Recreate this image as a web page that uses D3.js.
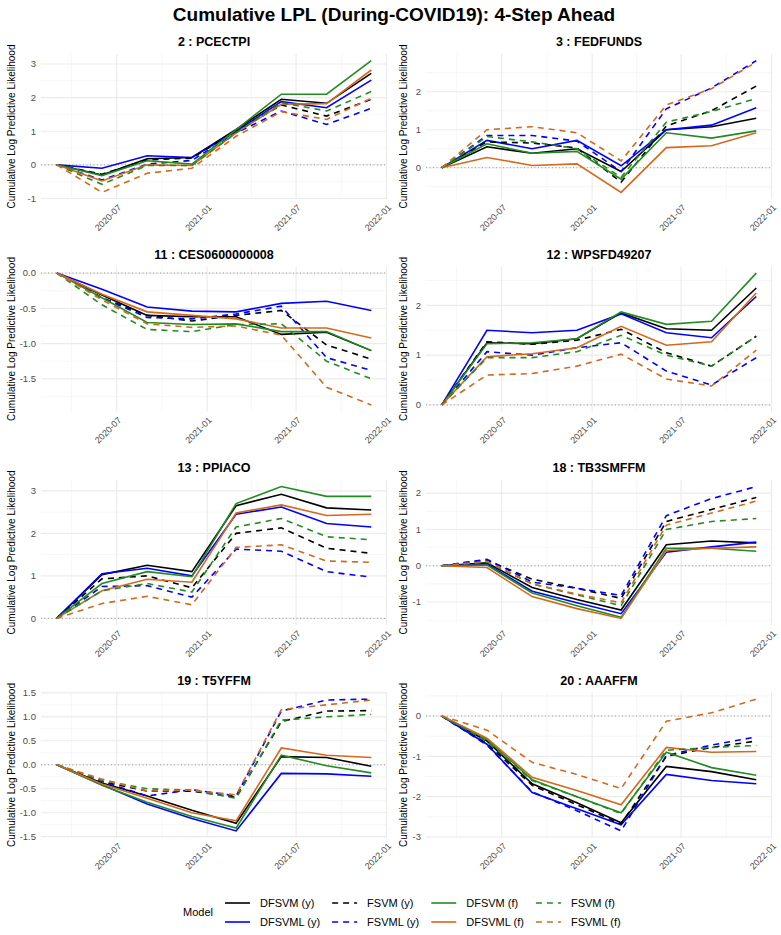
<!DOCTYPE html>
<html>
<head>
<meta charset="utf-8">
<script src="https://cdn.jsdelivr.net/npm/d3@7"></script>
<style>
  body { margin: 0; background: #fff; }
  text { font-family: "Liberation Sans", Arial, sans-serif; }
</style>
</head>
<body>
<svg id="chart"></svg>
<script>
const W = 781, H = 935;

// ---- data ----
const dates = ["2020-03", "2020-06", "2020-09", "2020-12", "2021-03", "2021-06", "2021-09", "2021-12"];
const models = ["DFSVM (y)", "DFSVML (y)", "FSVM (y)", "FSVML (y)", "DFSVM (f)", "DFSVML (f)", "FSVM (f)", "FSVML (f)"];
const modelColor = ["#000000", "#0000FF", "#000000", "#0000FF", "#228B22", "#D2691E", "#228B22", "#D2691E"];
const modelDashed = [false, false, true, true, false, false, true, true];
const panelTitles = ["2 : PCECTPI", "3 : FEDFUNDS", "11 : CES0600000008", "12 : WPSFD49207",
                     "13 : PPIACO", "18 : TB3SMFFM", "19 : T5YFFM", "20 : AAAFFM"];

// one row per model (same order as models)
const pcectpi = [
  [0, -0.30, 0.18, 0.22, 1.05, 1.95, 1.83, 2.72],
  [0, -0.10, 0.27, 0.22, 1.00, 1.88, 1.70, 2.52],
  [0, -0.28, 0.15, 0.20, 1.00, 1.78, 1.45, 1.95],
  [0, -0.45, 0.02, 0.13, 0.95, 1.60, 1.20, 1.68],
  [0, -0.32, 0.12, 0.02, 1.05, 2.10, 2.10, 3.10],
  [0, -0.48, 0.00, -0.02, 0.95, 1.80, 1.82, 2.82],
  [0, -0.58, -0.02, -0.02, 0.95, 1.85, 1.60, 2.18],
  [0, -0.82, -0.25, -0.10, 0.85, 1.58, 1.35, 1.98]
];
const fedfunds = [
  [0, 0.55, 0.38, 0.50, -0.10, 1.00, 1.08, 1.30],
  [0, 0.72, 0.50, 0.72, 0.05, 1.00, 1.12, 1.58],
  [0, 0.68, 0.65, 0.52, -0.38, 1.10, 1.50, 2.15],
  [0, 0.85, 0.85, 0.70, -0.10, 1.55, 2.10, 2.82],
  [0, 0.63, 0.38, 0.43, -0.30, 0.92, 0.78, 0.97],
  [0, 0.27, 0.06, 0.10, -0.65, 0.53, 0.58, 0.92],
  [0, 0.82, 0.68, 0.50, -0.25, 1.20, 1.48, 1.82],
  [0, 1.00, 1.08, 0.92, 0.18, 1.65, 2.08, 2.78]
];
const ces = [
  [0, -0.31, -0.60, -0.62, -0.62, -0.87, -0.84, -1.10],
  [0, -0.23, -0.48, -0.54, -0.55, -0.43, -0.40, -0.53],
  [0, -0.35, -0.60, -0.68, -0.60, -0.53, -1.02, -1.22],
  [0, -0.35, -0.63, -0.65, -0.58, -0.47, -1.20, -1.38],
  [0, -0.35, -0.70, -0.73, -0.72, -0.83, -0.83, -1.10],
  [0, -0.30, -0.55, -0.60, -0.65, -0.78, -0.78, -0.92],
  [0, -0.45, -0.80, -0.83, -0.73, -0.72, -1.25, -1.50],
  [0, -0.38, -0.72, -0.77, -0.75, -0.88, -1.62, -1.87]
];
const wpsfd = [
  [0, 1.25, 1.23, 1.33, 1.85, 1.53, 1.50, 2.35],
  [0, 1.50, 1.45, 1.50, 1.83, 1.45, 1.35, 2.18],
  [0, 1.27, 1.22, 1.30, 1.52, 1.05, 0.78, 1.38],
  [0, 1.07, 1.00, 1.15, 1.25, 0.68, 0.40, 0.95],
  [0, 1.23, 1.25, 1.33, 1.87, 1.62, 1.68, 2.65],
  [0, 0.97, 1.03, 1.15, 1.58, 1.20, 1.27, 2.25],
  [0, 0.95, 0.95, 1.07, 1.40, 1.00, 0.78, 1.38],
  [0, 0.60, 0.63, 0.78, 1.02, 0.52, 0.38, 1.10]
];
const ppiaco = [
  [0, 1.03, 1.25, 1.10, 2.65, 2.92, 2.60, 2.55],
  [0, 1.05, 1.18, 1.00, 2.45, 2.62, 2.23, 2.15],
  [0, 0.93, 1.00, 0.72, 2.00, 2.13, 1.65, 1.53],
  [0, 0.75, 0.77, 0.50, 1.63, 1.58, 1.10, 0.97],
  [0, 0.82, 1.10, 0.98, 2.70, 3.10, 2.87, 2.87],
  [0, 0.65, 0.92, 0.85, 2.48, 2.67, 2.42, 2.45],
  [0, 0.65, 0.82, 0.62, 2.15, 2.35, 1.92, 1.85],
  [0, 0.35, 0.52, 0.32, 1.67, 1.73, 1.35, 1.32]
];
const tb3smffm = [
  [0, 0.08, -0.60, -0.93, -1.22, 0.58, 0.68, 0.63],
  [0, 0.05, -0.70, -1.02, -1.32, 0.37, 0.52, 0.65],
  [0, 0.15, -0.37, -0.62, -0.90, 1.22, 1.55, 1.88],
  [0, 0.18, -0.45, -0.62, -0.82, 1.38, 1.85, 2.18],
  [0, 0.02, -0.75, -1.10, -1.42, 0.48, 0.48, 0.40],
  [0, -0.05, -0.85, -1.18, -1.45, 0.42, 0.48, 0.52],
  [0, 0.10, -0.50, -0.80, -1.10, 1.00, 1.22, 1.30],
  [0, 0.12, -0.50, -0.78, -1.02, 1.12, 1.45, 1.78]
];
const t5yffm = [
  [0, -0.38, -0.65, -0.95, -1.22, 0.17, 0.15, -0.03],
  [0, -0.42, -0.82, -1.12, -1.38, -0.18, -0.19, -0.24],
  [0, -0.35, -0.55, -0.55, -0.68, 0.90, 1.12, 1.13],
  [0, -0.35, -0.65, -0.52, -0.65, 1.12, 1.35, 1.37],
  [0, -0.43, -0.78, -1.08, -1.32, 0.20, -0.02, -0.17],
  [0, -0.40, -0.70, -1.00, -1.17, 0.35, 0.20, 0.15],
  [0, -0.33, -0.50, -0.53, -0.70, 0.93, 1.00, 1.05],
  [0, -0.30, -0.55, -0.53, -0.63, 1.15, 1.25, 1.35]
];
const aaaffm = [
  [0, -0.62, -1.68, -2.15, -2.65, -1.25, -1.38, -1.58],
  [0, -0.70, -1.90, -2.30, -2.70, -1.45, -1.60, -1.68],
  [0, -0.68, -1.72, -2.20, -2.68, -1.00, -0.78, -0.62],
  [0, -0.72, -1.88, -2.35, -2.85, -0.98, -0.72, -0.52],
  [0, -0.58, -1.58, -2.00, -2.40, -0.90, -1.28, -1.47],
  [0, -0.55, -1.52, -1.85, -2.20, -0.78, -0.90, -0.88],
  [0, -0.62, -1.60, -2.00, -2.42, -0.85, -0.78, -0.73],
  [0, -0.35, -1.15, -1.45, -1.80, -0.13, 0.08, 0.42]
];
const panelValues = [pcectpi, fedfunds, ces, wpsfd, ppiaco, tb3smffm, t5yffm, aaaffm];

const yTicks = [[-1, 0, 1, 2, 3], [0, 1, 2], [-1.5, -1, -0.5, 0], [0, 1, 2],
                [0, 1, 2, 3], [-1, 0, 1, 2], [-1.5, -1, -0.5, 0, 0.5, 1, 1.5], [-3, -2, -1, 0]];
const xTicks = ["2020-07", "2021-01", "2021-07", "2022-01"];

// ---- layout ----
const colX = [41, 426], panelW = 346;
const rowY = [54, 266.5, 480, 692.5], panelH = 145;
const axisTitleX = [11, 403];

const parseMonth = d3.timeParse("%Y-%m");
const t = dates.map(parseMonth);
const xt = xTicks.map(parseMonth);
// minor breaks halfway between majors, plus one before the first
const xMinor = [new Date((+xt[0] + (2 * xt[0] - xt[1])) / 2)];
for (let i = 0; i < xt.length - 1; i++) xMinor.push(new Date((+xt[i] + +xt[i + 1]) / 2));

const tspan = t[t.length - 1] - t[0];
const xDomain = [new Date(+t[0] - 0.05 * tspan), new Date(+t[t.length - 1] + 0.05 * tspan)];

const svg = d3.select("#chart").attr("width", W).attr("height", H);
svg.append("rect").attr("width", W).attr("height", H).attr("fill", "#fff");

svg.append("text")
  .attr("x", 394).attr("y", 21)
  .attr("text-anchor", "middle")
  .style("font-size", "19px").style("font-weight", "bold")
  .text("Cumulative LPL (During-COVID19): 4-Step Ahead");

const fmtTick = ticks => {
  const dec = ticks.some(v => Math.round(v) !== v) ? 1 : 0;
  return v => v.toFixed(dec);
};

panelValues.forEach((vals, p) => {
  const col = p % 2, row = Math.floor(p / 2);
  const x0 = colX[col], y0 = rowY[row];

  const x = d3.scaleTime().domain(xDomain).range([x0, x0 + panelW]);
  const ext = d3.extent(vals.flat());
  const pad = 0.05 * (ext[1] - ext[0]);
  const y = d3.scaleLinear().domain([ext[0] - pad, ext[1] + pad]).range([y0 + panelH, y0]);
  const [ylo, yhi] = y.domain();

  const g = svg.append("g").attr("class", "panel");

  // minor y breaks
  const tk = yTicks[p];
  const step = tk[1] - tk[0];
  const yMinor = [tk[0] - step / 2].concat(tk.map(v => v + step / 2)).filter(v => v >= ylo && v <= yhi);
  const xMinorIn = xMinor.filter(d => d >= xDomain[0] && d <= xDomain[1]);

  g.selectAll(".ymin").data(yMinor).enter().append("line")
    .attr("x1", x0).attr("x2", x0 + panelW)
    .attr("y1", d => y(d)).attr("y2", d => y(d))
    .attr("stroke", "#f0f0f0").attr("stroke-width", 0.6);
  g.selectAll(".xmin").data(xMinorIn).enter().append("line")
    .attr("x1", d => x(d)).attr("x2", d => x(d))
    .attr("y1", y0).attr("y2", y0 + panelH)
    .attr("stroke", "#f0f0f0").attr("stroke-width", 0.6);

  const tkIn = tk.filter(v => v >= ylo - 0.01 && v <= yhi);
  g.selectAll(".ymaj").data(tkIn).enter().append("line")
    .attr("x1", x0).attr("x2", x0 + panelW)
    .attr("y1", d => y(d)).attr("y2", d => y(d))
    .attr("stroke", "#ebebeb").attr("stroke-width", 1.1);
  const xtIn = xt.filter(d => d >= xDomain[0] && d <= +xDomain[1] + 86400000 * 2);
  g.selectAll(".xmaj").data(xtIn).enter().append("line")
    .attr("x1", d => x(d)).attr("x2", d => x(d))
    .attr("y1", y0).attr("y2", y0 + panelH)
    .attr("stroke", "#ebebeb").attr("stroke-width", 1.1);

  // zero reference
  g.append("line")
    .attr("x1", x0).attr("x2", x0 + panelW)
    .attr("y1", y(0)).attr("y2", y(0))
    .attr("stroke", "#9a9a9a").attr("stroke-width", 1)
    .attr("stroke-dasharray", "1,2.5");

  // series
  const line = d3.line().x((d, i) => x(t[i])).y(d => y(d));
  vals.forEach((s, m) => {
    g.append("path")
      .attr("d", line(s))
      .attr("fill", "none")
      .attr("stroke", modelColor[m])
      .attr("stroke-width", 1.6)
      .attr("stroke-dasharray", modelDashed[m] ? "6,5" : null);
  });

  // strip title
  g.append("text")
    .attr("x", x0 + panelW / 2).attr("y", y0 - 8)
    .attr("text-anchor", "middle")
    .style("font-size", "12.5px").style("font-weight", "bold")
    .text(panelTitles[p]);

  // y tick labels
  const f = fmtTick(tk);
  g.selectAll(".ytl").data(tkIn).enter().append("text")
    .attr("x", x0 - 5).attr("y", d => y(d))
    .attr("dy", "0.35em")
    .attr("text-anchor", "end")
    .attr("fill", "#4d4d4d")
    .style("font-size", "9.5px")
    .text(f);

  // x tick labels
  const fx = d3.timeFormat("%Y-%m");
  g.selectAll(".xtl").data(xtIn).enter().append("text")
    .attr("transform", d => `translate(${x(d) + 3},${y0 + panelH + 7}) rotate(-45)`)
    .attr("text-anchor", "end")
    .attr("dy", "0.35em")
    .attr("fill", "#4d4d4d")
    .style("font-size", "9px")
    .text(fx);

  // axis title
  g.append("text")
    .attr("transform", `translate(${axisTitleX[col]},${y0 + panelH / 2}) rotate(-90)`)
    .attr("text-anchor", "middle")
    .attr("dy", "0.35em")
    .style("font-size", "10px")
    .text("Cumulative Log Predictive Likelihood");
});

// ---- legend ----
const leg = svg.append("g").attr("class", "legend");
leg.append("text")
  .attr("x", 183).attr("y", 912).attr("dy", "0.35em")
  .style("font-size", "11px")
  .text("Model");

const rowsY = [903, 922];
let cx = 225;
for (let c = 0; c < 4; c++) {
  let maxW = 0;
  for (let r = 0; r < 2; r++) {
    const m = c * 2 + r;
    leg.append("line")
      .attr("x1", cx).attr("x2", cx + 25)
      .attr("y1", rowsY[r]).attr("y2", rowsY[r])
      .attr("stroke", modelColor[m]).attr("stroke-width", 1.6)
      .attr("stroke-dasharray", modelDashed[m] ? "6,5" : null);
    const txt = leg.append("text")
      .attr("x", cx + 35).attr("y", rowsY[r]).attr("dy", "0.35em")
      .style("font-size", "11px")
      .text(models[m]);
    maxW = Math.max(maxW, txt.node().getComputedTextLength());
  }
  cx += 35 + maxW + 12;
}
</script>
</body>
</html>
